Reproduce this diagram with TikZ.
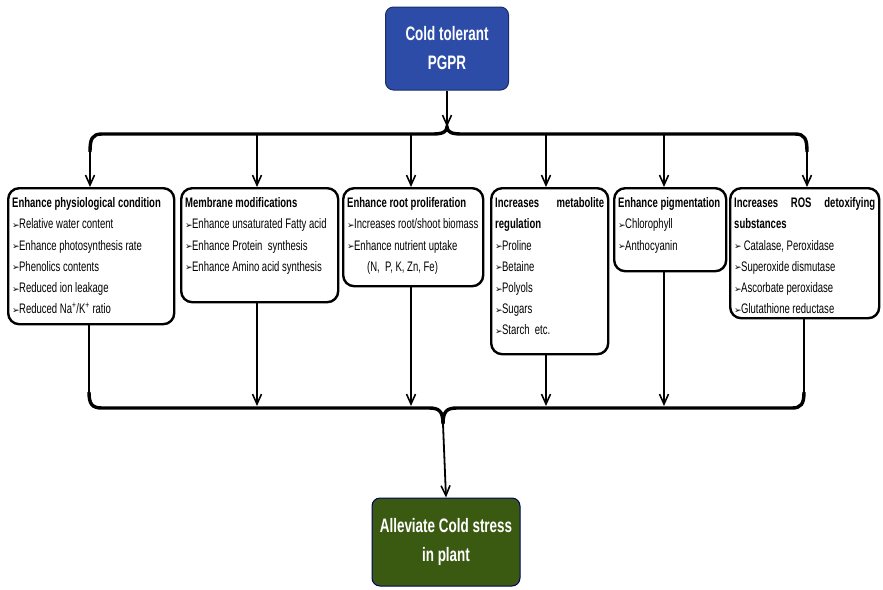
\documentclass[tikz,border=0pt]{standalone}
\usepackage{fontspec}
\setmainfont{Liberation Sans}[FakeStretch=0.69]
\newfontfamily\symfont{DejaVu Sans}
\usetikzlibrary{arrows.meta}

\definecolor{pgprblue}{RGB}{44,76,168}
\definecolor{plantgreen}{RGB}{58,90,18}

% small arrowhead bullet
\newcommand\bul{\raisebox{0.4pt}{\symfont\fontsize{9}{9}\selectfont ➢}\kern-0.6pt}
% top-aligned body of a trait box: height, width, lines
\newcommand\cbody[3]{\parbox[t][#1][t]{#2}{\raggedright\fontsize{13.8}{21.2}\selectfont\rule{0pt}{19.5pt}#3}}

\tikzset{
  cbox/.style={draw, line width=2.4pt, rounded corners=11pt, anchor=north west,
               inner xsep=4pt, inner ysep=0pt},
  endbox/.style={rounded corners=8pt, line width=1pt, text=white, align=center,
                 font=\bfseries\fontsize{19.5}{29}\selectfont},
  conn/.style={line width=1.8pt},
  arr/.style={line width=1.8pt, -{Straight Barb[length=10pt,width=9pt,line width=1.6pt]}},
  bar/.style={line width=3.4pt}
}

\begin{document}
\begin{tikzpicture}[x=1pt,y=-1pt]
\useasboundingbox (0,0) rectangle (883,589);

% source and sink
\node[endbox, fill=pgprblue, draw=pgprblue!60!black,
      minimum width=123pt, minimum height=83pt] (src) at (447,48.5) {Cold tolerant\\PGPR};
\node[endbox, fill=plantgreen, draw=black!60!blue,
      minimum width=148pt, minimum height=88pt] (sink) at (446,542) {Alleviate Cold stress\\in plant};

% trait boxes
\node[cbox] (b1) at (7,187) {\cbody{136pt}{158pt}{%
  \textbf{Enhance physiological condition}\\
  \bul Relative water content\\
  \bul Enhance photosynthesis rate\\
  \bul Phenolics contents\\
  \bul Reduced ion leakage\\
  \bul Reduced Na\textsuperscript{+}/K\textsuperscript{+} ratio}};

\node[cbox] (b2) at (180,187) {\cbody{114pt}{149pt}{%
  \textbf{Membrane modifications}\\
  \mbox{\bul Enhance unsaturated Fatty acid}\\
  \bul Enhance Protein\ \ synthesis\\
  \mbox{\bul Enhance Amino acid synthesis}}};

\node[cbox] (b3) at (342,187) {\cbody{98pt}{132pt}{%
  \textbf{Enhance root proliferation}\\
  \mbox{\bul Increases root/shoot biomass}\\
  \bul Enhance nutrient uptake\\
  \hspace*{20pt}(N,\ \ P, K, Zn, Fe)}};

\node[cbox] (b4) at (490,187) {\cbody{166pt}{109pt}{%
  \textbf{Increases\hfill metabolite}\\
  \textbf{regulation}\\
  \bul Proline\\
  \bul Betaine\\
  \bul Polyols\\
  \bul Sugars\\
  \bul Starch\ \ etc.}};

\node[cbox] (b5) at (613,187) {\cbody{83pt}{104pt}{%
  \textbf{Enhance pigmentation}\\
  \bul Chlorophyll\\
  \bul Anthocyanin}};

\node[cbox] (b6) at (729,187) {\cbody{130pt}{141pt}{%
  \textbf{Increases\hfill ROS\hfill detoxifying}\\
  \textbf{substances}\\
  \bul\ Catalase, Peroxidase\\
  \bul Superoxide dismutase\\
  \bul Ascorbate peroxidase\\
  \bul Glutathione reductase}};

% upper brace: distributes from the source to every box
\coordinate (tc) at (447,127);
\coordinate (t1) at (90,152);
\coordinate (t6) at (807,152);
\coordinate (t2) at (257,134);
\coordinate (t3) at (411,134);
\coordinate (t4) at (546,134);
\coordinate (t5) at (664,134);

\draw[arr] (src.south) -- (tc);
\draw[bar] (t1) .. controls (90,139) and (92,134) .. (102,134) -- (433,134)
  .. controls (442,134) and (447,132) .. (tc)
  .. controls (447,132) and (452,134) .. (461,134) -- (795,134)
  .. controls (805,134) and (807,139) .. (t6);
\draw[arr] (t1) -- (t1 |- b1.north);
\draw[arr] (t6) -- (t6 |- b6.north);
\foreach \i in {2,3,4,5} \draw[arr] (t\i) -- (t\i |- b\i.north);

% lower brace: gathers every box into the sink
\coordinate (u1) at (89,392);
\coordinate (u6) at (804,392);
\coordinate (bc) at (443,424);
\coordinate (d2) at (257,406);
\coordinate (d3) at (411,406);
\coordinate (d4) at (546,406);
\coordinate (d5) at (664,406);

\draw[conn] (u1 |- b1.south) -- (u1);
\draw[conn] (u6 |- b6.south) -- (u6);
\draw[bar] (u1) .. controls (89,404) and (92,408) .. (102,408) -- (429,408)
  .. controls (439,408) and (443,411) .. (bc)
  .. controls (443,411) and (447,408) .. (457,408) -- (792,408)
  .. controls (801,408) and (804,404) .. (u6);
\draw[arr] (bc) -- (sink.north);
\foreach \i in {2,3,4,5} \draw[arr] (d\i |- b\i.south) -- (d\i);
\end{tikzpicture}
\end{document}
